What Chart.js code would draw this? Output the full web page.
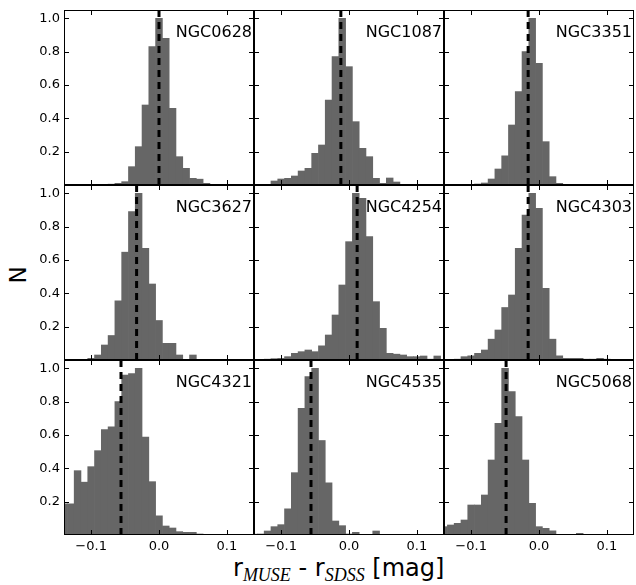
<!DOCTYPE html>
<html>
<head>
<meta charset="utf-8">
<script src="https://cdn.jsdelivr.net/npm/chart.js@4.4.0/dist/chart.umd.min.js"></script>
<style>
    body { margin: 0; background: #fff; }
    #fig { position: relative; width: 636px; height: 585px; overflow: hidden; font-family: 'DejaVu Sans'; color: #000; }
    #fig canvas { position: absolute; }
    #ylab { position: absolute; left: -2px; top: 260px; width: 40px; height: 30px; line-height: 30px; text-align: center; font-size: 23px; transform: rotate(-90deg); }
    #xlab { position: absolute; left: 233px; top: 556px; font-size: 24px; line-height: 24px; white-space: nowrap; }
    #xlab i { font-family: 'Liberation Serif'; font-size: 18px; position: relative; top: 5px; }
</style>
</head>
<body>
<div id="fig">
    <div id="ylab">N</div>
    <div id="xlab">r<i>MUSE</i> - r<i>SDSS</i> [mag]</div>
</div>
<script>
// histogram per galaxy, normalised to peak = 1, bins 0.01 mag wide
const galaxies = ['NGC0628', 'NGC1087', 'NGC3351', 'NGC3627', 'NGC4254', 'NGC4303', 'NGC4321', 'NGC4535', 'NGC5068'];
const binWidth = 0.01;
const firstBin = [-0.07, -0.11, -0.10, -0.11, -0.12, -0.12, -0.14, -0.14, -0.14];   // centre of first bin

const ngc0628 = [0.005, 0.01, 0.02, 0.11, 0.23, 0.48, 0.83, 1.0, 0.88, 0.46, 0.17, 0.10, 0.04, 0.035, 0.01];
const ngc1087 = [0.024, 0.036, 0.04, 0.054, 0.084, 0.10, 0.19, 0.24, 0.51, 0.77, 1.0, 0.71, 0.38, 0.22, 0.17, 0.04, 0.01, 0.042, 0.018, 0.004, 0.004];
const ngc3351 = [0.003, 0.006, 0.012, 0.036, 0.096, 0.175, 0.36, 0.56, 0.80, 1.0, 0.73, 0.26, 0.05, 0.01];
const ngc3627 = [0.004, 0.01, 0.03, 0.09, 0.147, 0.355, 0.647, 0.89, 1.0, 0.67, 0.456, 0.237, 0.10, 0.10, 0.03, 0.0, 0.03];
const ngc4254 = [0.005, 0.008, 0.01, 0.02, 0.04, 0.05, 0.06, 0.05, 0.085, 0.15, 0.27, 0.45, 0.71, 1.0, 0.97, 0.74, 0.35, 0.19, 0.04, 0.035, 0.03, 0.02, 0.02, 0.024, 0.005, 0.024];
const ngc4303 = [0.005, 0.02, 0.025, 0.04, 0.06, 0.125, 0.18, 0.315, 0.39, 0.67, 0.87, 1.0, 0.91, 0.43, 0.125, 0.025, 0.01, 0.01, 0.01, 0.005, 0.005, 0.01, 0.005];
const ngc4321 = [0.187, 0.187, 0.386, 0.317, 0.41, 0.506, 0.633, 0.649, 0.80, 0.96, 0.968, 1.0, 0.587, 0.32, 0.115, 0.054, 0.042, 0.02, 0.016, 0.016, 0.006];
const ngc4535 = [0.005, 0.006, 0.024, 0.05, 0.062, 0.157, 0.374, 0.76, 0.95, 1.0, 0.567, 0.313, 0.084, 0.056, 0.006, 0.016, 0, 0, 0.024];
const ngc5068 = [0.05, 0.06, 0.07, 0.09, 0.18, 0.18, 0.24, 0.45, 0.67, 1.0, 0.86, 0.71, 0.45, 0.19, 0.05, 0.04, 0.025, 0, 0, 0, 0.01];
const counts = [ngc0628, ngc1087, ngc3351, ngc3627, ngc4254, ngc4303, ngc4321, ngc4535, ngc5068];

// dashed lines (median offset)
const medians = [0.0, -0.012, -0.016, -0.033, 0.012, -0.016, -0.056, -0.056, -0.0485];

const xTicks = [-0.1, 0.0, 0.1];
const yTicks = [0.2, 0.4, 0.6, 0.8, 1.0];
const xMin = -0.14, xMax = 0.14, yMax = 1.05;

// panel layout
const plotW = 190, plotH = 175;
const colX = [64, 254, 444], rowY = [10, 185, 360];
const padL = 50, padT = 12, padR = 10, padB = 30;

Chart.defaults.font.family = 'DejaVu Sans';
Chart.defaults.color = '#000';

// frame, inward ticks on all four sides and galaxy name
const panelFrame = {
    id: 'panelFrame',
    afterDatasetsDraw(chart, args, opts) {
        const { ctx, chartArea: a, scales: { x, y } } = chart;
        ctx.save();
        ctx.strokeStyle = '#000';
        ctx.lineWidth = 1;
        ctx.strokeRect(a.left + 0.5, a.top + 0.5, a.width - 1, a.height - 1);
        ctx.beginPath();
        x.ticks.forEach(t => {
            const px = Math.round(x.getPixelForValue(t.value)) + 0.5;
            ctx.moveTo(px, a.bottom); ctx.lineTo(px, a.bottom - 5);
            ctx.moveTo(px, a.top); ctx.lineTo(px, a.top + 5);
        });
        y.ticks.forEach(t => {
            const py = Math.round(y.getPixelForValue(t.value)) + 0.5;
            ctx.moveTo(a.left, py); ctx.lineTo(a.left + 5, py);
            ctx.moveTo(a.right, py); ctx.lineTo(a.right - 5, py);
        });
        ctx.stroke();
        ctx.font = '16px "DejaVu Sans"';
        ctx.textAlign = 'right';
        ctx.fillStyle = '#000';
        ctx.fillText(opts.name, a.right - 2, a.top + 27);
        ctx.restore();
    }
};

const fig = document.getElementById('fig');

galaxies.forEach((name, i) => {
    const row = Math.floor(i / 3), col = i % 3;
    const canvas = document.createElement('canvas');
    canvas.width = padL + plotW + padR;
    canvas.height = padT + plotH + padB;
    canvas.style.left = (colX[col] - padL) + 'px';
    canvas.style.top = (rowY[row] - padT) + 'px';
    fig.appendChild(canvas);

    const bins = counts[i].map((v, j) => ({ x: firstBin[i] + j * binWidth, y: v }));

    new Chart(canvas.getContext('2d'), {
        type: 'bar',
        data: {
            datasets: [{
                data: bins,
                backgroundColor: '#666666',
                borderWidth: 0,
                barPercentage: 1,
                categoryPercentage: 1,
                order: 1,
            }, {
                type: 'line',
                data: [{ x: medians[i], y: 0 }, { x: medians[i], y: yMax }],
                borderColor: '#000',
                borderWidth: 3,
                borderDash: [7, 5],
                pointRadius: 0,
                order: 0,
            }],
        },
        options: {
            responsive: false,
            animation: false,
            devicePixelRatio: 1,
            layout: { padding: { top: padT, right: padR, left: 0, bottom: 0 } },
            plugins: {
                legend: { display: false },
                tooltip: { enabled: false },
                panelFrame: { name: name },
            },
            scales: {
                x: {
                    type: 'linear',
                    min: xMin,
                    max: xMax,
                    offset: false,
                    grid: { display: false, drawTicks: false },
                    border: { display: false },
                    afterBuildTicks: s => { s.ticks = xTicks.map(v => ({ value: v })); },
                    afterFit: s => { s.height = padB; },
                    ticks: {
                        display: row === 2,
                        padding: 4,
                        font: { size: 13 },
                        callback: v => v.toFixed(1).replace('-', '\u2212'),
                    },
                },
                y: {
                    type: 'linear',
                    min: 0,
                    max: yMax,
                    grid: { display: false, drawTicks: false },
                    border: { display: false },
                    afterBuildTicks: s => { s.ticks = yTicks.map(v => ({ value: v })); },
                    afterFit: s => { s.width = padL; },
                    ticks: {
                        display: col === 0,
                        padding: 4,
                        font: { size: 13 },
                        callback: v => v.toFixed(1),
                    },
                },
            },
        },
        plugins: [panelFrame],
    });
});
</script>
</body>
</html>
